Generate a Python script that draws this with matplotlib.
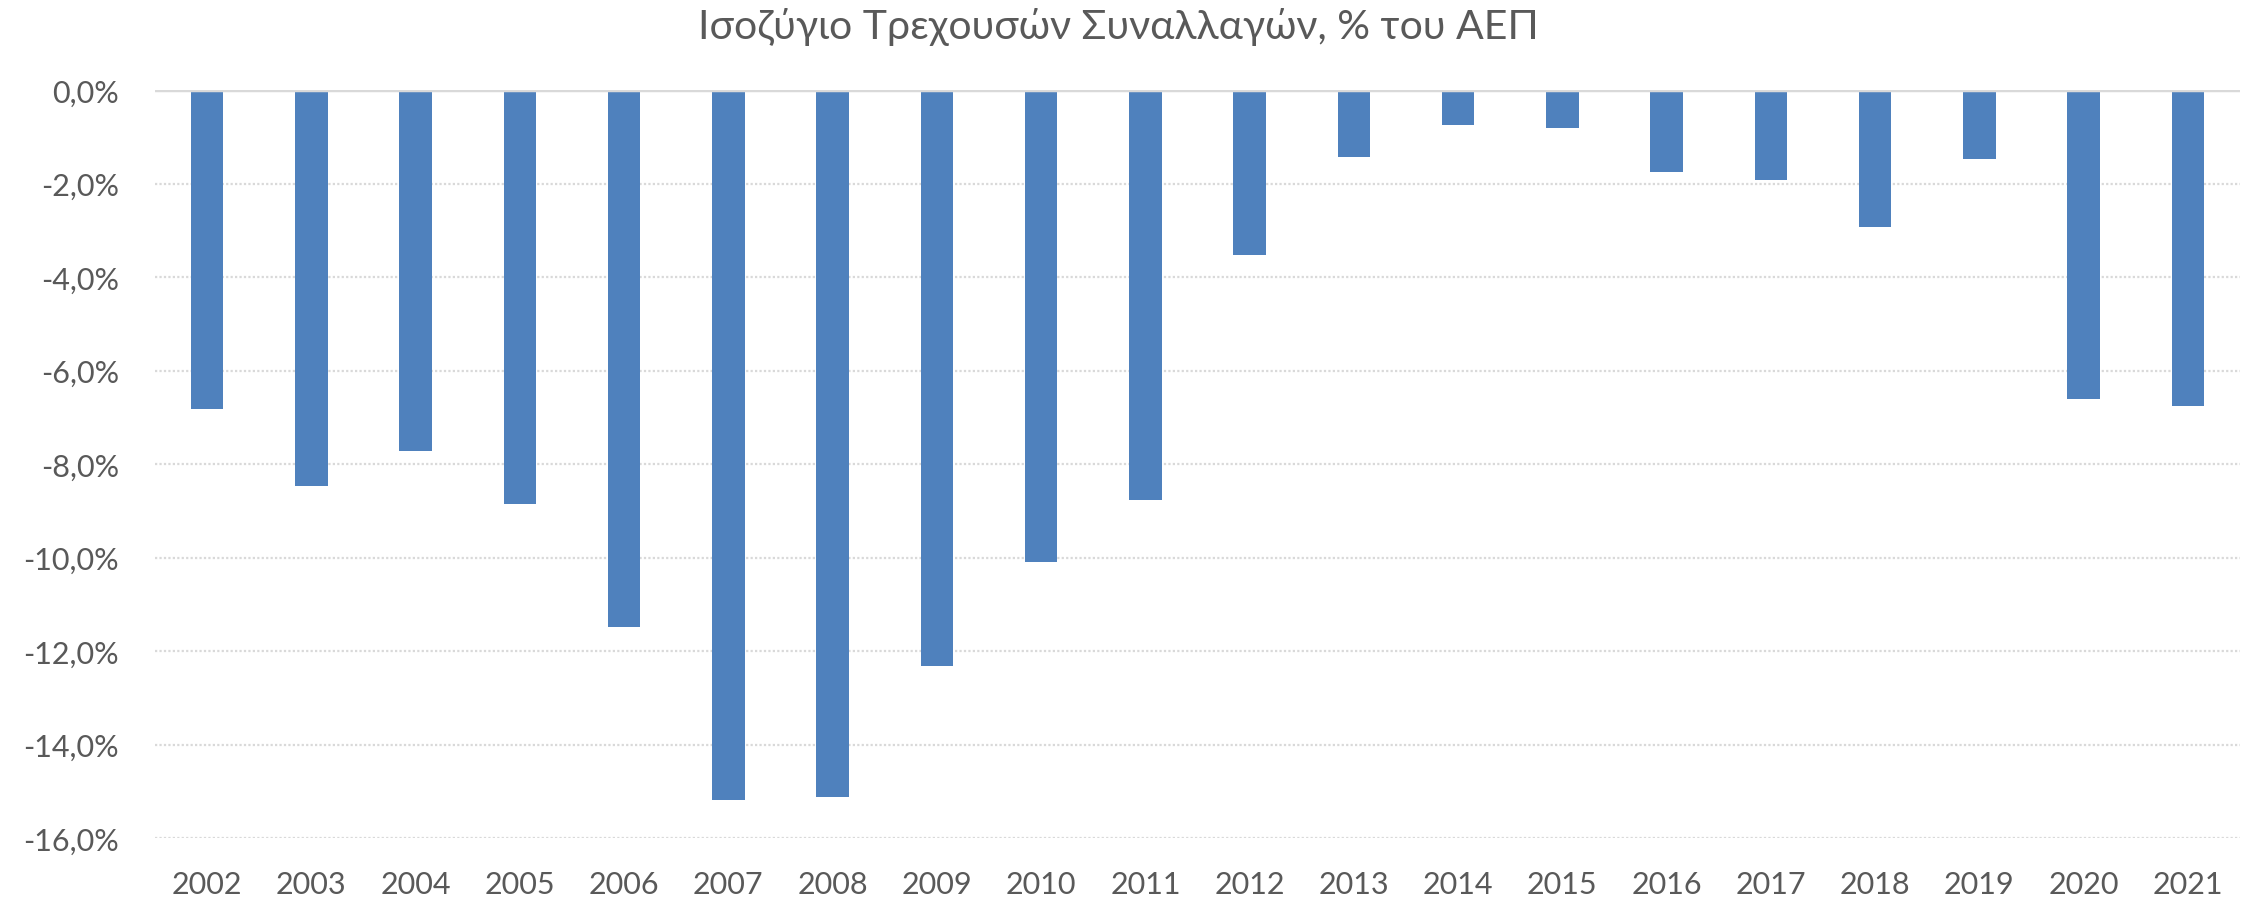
import matplotlib
matplotlib.use("Agg")
import matplotlib.pyplot as plt
import numpy as np

# current account balance, % of GDP
years = ["2002", "2003", "2004", "2005", "2006", "2007", "2008", "2009", "2010", "2011",
         "2012", "2013", "2014", "2015", "2016", "2017", "2018", "2019", "2020", "2021"]
balance = [-6.83, -8.46, -7.72, -8.86, -11.49, -15.19, -15.12, -12.32, -10.09, -8.76,
           -3.53, -1.43, -0.74, -0.81, -1.75, -1.92, -2.92, -1.48, -6.62, -6.75]
yticks = [0, -2, -4, -6, -8, -10, -12, -14, -16]

title = "Ισοζύγιο Τρεχουσών Συναλλαγών, % του ΑΕΠ"
grey = "#595959"

plt.rcParams['font.family'] = ['Lato', 'DejaVu Sans']

fig = plt.figure(figsize=(22.5, 9.04), dpi=100)
ax = fig.add_axes([155/2250, 1 - 839/904, (2240 - 155)/2250, (839 - 91)/904])

x = np.arange(len(years))
ax.bar(x, balance, width=0.31, color="#4F81BD", zorder=3)

ax.set_xlim(-0.5, len(years) - 0.5)
ax.set_ylim(-16, 0)
ax.set_yticks(yticks)
ax.set_yticklabels([("%.1f%%" % v).replace(".", ",") for v in yticks])
ax.set_xticks(x)
ax.set_xticklabels(years)

# gridlines: dotted, zero line solid
for v in yticks[1:]:
    ax.axhline(v, color="#D9D9D9", lw=1.6, ls=(0, (1, 1)), zorder=1)
ax.axhline(0, color="#D9D9D9", lw=2.5, zorder=4)

for s in ax.spines.values():
    s.set_visible(False)
ax.tick_params(axis="both", length=0, colors=grey, labelsize=22)
ax.tick_params(axis="y", pad=26)
ax.tick_params(axis="x", pad=23)

fig.text(0.497, 1 - 39/904, title, ha="center", va="baseline", fontsize=29.5, color=grey)

fig.savefig("out.png", dpi=100, facecolor="white")
